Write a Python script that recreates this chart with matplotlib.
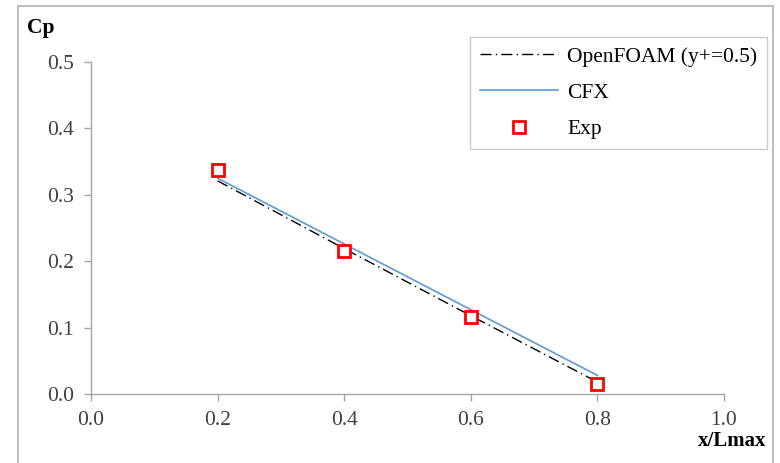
import matplotlib
matplotlib.use("Agg")
import matplotlib.pyplot as plt
from matplotlib.patches import Rectangle

plt.rcParams['font.family'] = ['Liberation Serif', 'DejaVu Serif']

# pressure coefficient along the wall
x_pos = [0.2, 0.4, 0.6, 0.8]
cp_openfoam = [0.321, 0.219, 0.118, 0.018]
cp_cfx = [0.325, 0.226, 0.127, 0.028]
cp_exp = [0.338, 0.216, 0.116, 0.015]

x_ticks = [0.0, 0.2, 0.4, 0.6, 0.8, 1.0]
y_ticks = [0.0, 0.1, 0.2, 0.3, 0.4, 0.5]

fig = plt.figure(figsize=(7.8, 4.63), dpi=100)
ax = fig.add_axes([0.1167, 0.149, 0.8115, 0.717])

spine_col = '#a6a6a6'
ax.plot(x_pos, cp_openfoam, color='black', lw=1.0, ls=(0, (8, 3, 1, 3)),
        label='OpenFOAM (y+=0.5)')
ax.plot(x_pos, cp_cfx, color='#5b9bd5', lw=1.2, label='CFX')
ax.plot(x_pos, cp_exp, ls='none', marker='s', ms=8.5, mfc='white',
        mec='#ff0000', mew=2.0, label='Exp')

ax.set_xlim(0, 1.0)
ax.set_ylim(0, 0.5)
ax.set_xticks(x_ticks)
ax.set_yticks(y_ticks)
ax.set_xticklabels([f'{v:.1f}' for v in x_ticks])
ax.set_yticklabels([f'{v:.1f}' for v in y_ticks])
ax.tick_params(labelsize=15.5, color=spine_col, length=5, width=1, colors='#404040')
ax.tick_params(axis='x', pad=7)
ax.tick_params(axis='y', pad=7)
for s in ['top', 'right']:
    ax.spines[s].set_visible(False)
for s in ['left', 'bottom']:
    ax.spines[s].set_color(spine_col)
    ax.spines[s].set_linewidth(1)

fig.text(27 / 780, 1 - 28 / 463, 'Cp', fontsize=15.5, fontweight='bold',
         va='center', ha='left')
fig.text(766 / 780, 1 - 441 / 463, 'x/Lmax', fontsize=15, fontweight='bold',
         va='center', ha='right')

leg = ax.legend(loc='upper right', bbox_to_anchor=(767 / 780, 1 - 37 / 463),
                bbox_transform=fig.transFigure, fontsize=15.5, frameon=True,
                fancybox=False, edgecolor='#bfbfbf', handlelength=3.6,
                labelspacing=0.75, borderpad=0.45, handletextpad=0.45,
                borderaxespad=0)
leg.get_frame().set_linewidth(1)

# outer chart border
fig.patches.append(Rectangle((18 / 780, -0.01), 755 / 780, 1 - 6 / 463 + 0.01,
                             transform=fig.transFigure, fill=False,
                             edgecolor='#bfbfbf', lw=1.5))

fig.savefig('out.png', dpi=100)
